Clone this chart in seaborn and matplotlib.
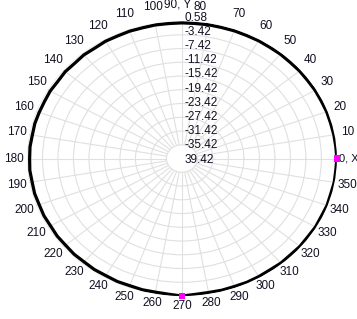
import numpy as np
import pandas as pd
import matplotlib
matplotlib.use("Agg")
import matplotlib.pyplot as plt
import seaborn as sns
from matplotlib.transforms import offset_copy

# ---- data ----
angle_deg = [0, 5, 10, 15, 20, 25, 30, 35, 40, 45, 50, 55, 60, 65, 70, 75, 80, 85,
             90, 95, 100, 105, 110, 115, 120, 125, 130, 135, 140, 145, 150, 155, 160, 165, 170, 175,
             180, 185, 190, 195, 200, 205, 210, 215, 220, 225, 230, 235, 240, 245, 250, 255, 260, 265,
             270, 275, 280, 285, 290, 295, 300, 305, 310, 315, 320, 325, 330, 335, 340, 345, 350, 355, 360]
gain_db = [0.58, 0.45, 0.40, 0.32, 0.35, 0.25, 0.28, 0.18, 0.22, 0.12, 0.18, 0.10, 0.15, 0.08, 0.12, 0.05, 0.10, 0.02,
           0.05, 0.00, 0.05, -0.05, 0.02, -0.08, 0.00, -0.20, -0.05, -0.25, -0.10, -0.30, -0.15, -0.25, -0.20, -0.10, -0.20, -0.05,
           -0.10, 0.00, -0.15, -0.05, -0.20, -0.10, -0.25, -0.10, -0.20, -0.05, -0.15, 0.00, -0.10, 0.05, -0.05, 0.10, 0.05, 0.20,
           0.58, 0.25, 0.15, 0.25, 0.20, 0.30, 0.25, 0.15, 0.30, 0.20, 0.35, 0.25, 0.40, 0.30, 0.45, 0.35, 0.50, 0.45, 0.58]
marker_deg = [0, 270]
marker_gain = [0.58, 0.58]

r_ticks = [0.58, -3.42, -7.42, -11.42, -15.42, -19.42, -23.42, -27.42, -31.42, -35.42, -39.42]
r_tick_labels = ["0.58", "-3.42", "-7.42", "-11.42", "-15.42", "-19.42", "-23.42",
                 "-27.42", "-31.42", "-35.42", "39.42"]
theta_ticks_deg = list(range(0, 360, 10))
theta_tick_labels = ["0, X", "10", "20", "30", "40", "50", "60", "70", "80", "90, Y",
                     "100", "110", "120", "130", "140", "150", "160", "170", "180",
                     "190", "200", "210", "220", "230", "240", "250", "260", "270",
                     "280", "290", "300", "310", "320", "330", "340", "350"]

df = pd.DataFrame({"theta": np.deg2rad(angle_deg), "r": gain_db})
dm = pd.DataFrame({"theta": np.deg2rad(marker_deg), "r": marker_gain})

sns.set_style("white")
plt.rcParams["font.family"] = ["Liberation Sans", "DejaVu Sans"]
plt.rcParams["font.size"] = 8.5
txt_col = "#111122"

fig = plt.figure(figsize=(3.57, 3.19), dpi=100)
ax = fig.add_axes([0.0756, 0.072, 0.868, 0.862], projection="polar")
ax.set_aspect("auto")
ax.set_ylim(r_ticks[-1], r_ticks[0])

grid_col = "#e0e0e0"
ax.set_yticks(r_ticks)
ax.set_yticklabels([])
ax.yaxis.grid(True, color=grid_col, linewidth=0.8)
ax.xaxis.grid(False)
ax.set_xticks(np.deg2rad(theta_ticks_deg))
ax.set_xticklabels([])
ax.spines["polar"].set_visible(False)

# radial grid lines (stop at the innermost ring)
ax.vlines(np.deg2rad(theta_ticks_deg), r_ticks[-2], r_ticks[0], color=grid_col, linewidth=0.8, zorder=0.5)

sns.lineplot(data=df, x="theta", y="r", ax=ax, color="black", linewidth=2.3, sort=False, zorder=3)
sns.scatterplot(data=dm, x="theta", y="r", ax=ax, color="#ff00ff", marker="s", s=22,
                edgecolor="none", zorder=4, clip_on=False)
ax.set_xlabel("")
ax.set_ylabel("")

# angular labels placed just outside the outer ring
for t, lab in zip(theta_ticks_deg, theta_tick_labels):
    c, s = np.cos(np.deg2rad(t)), np.sin(np.deg2rad(t))
    if t == 0:
        ax.text(0, r_ticks[0], lab, ha="left", va="center", color=txt_col, fontsize=8,
                transform=offset_copy(ax.transData, fig=fig, x=2, y=0, units="dots"))
        continue
    dx = 13 * c
    dy = s * (13 + 3.5 * s)
    if t == 90:
        dx = -4
    elif t == 80:
        dx = -9
    ax.text(np.deg2rad(t), r_ticks[0], lab, ha="center", va="center", color=txt_col,
            transform=offset_copy(ax.transData, fig=fig, x=dx, y=dy, units="dots"))

span = r_ticks[0] - r_ticks[-1]
for r, lab in zip(r_ticks, r_tick_labels):
    dy = -1 + 4.5 * (r - r_ticks[-1]) / span
    ax.text(np.pi / 2, r, lab, ha="left", va="center", color=txt_col,
            transform=offset_copy(ax.transData, fig=fig, x=3, y=dy, units="dots"), zorder=5)

fig.savefig("out.png", dpi=100)
